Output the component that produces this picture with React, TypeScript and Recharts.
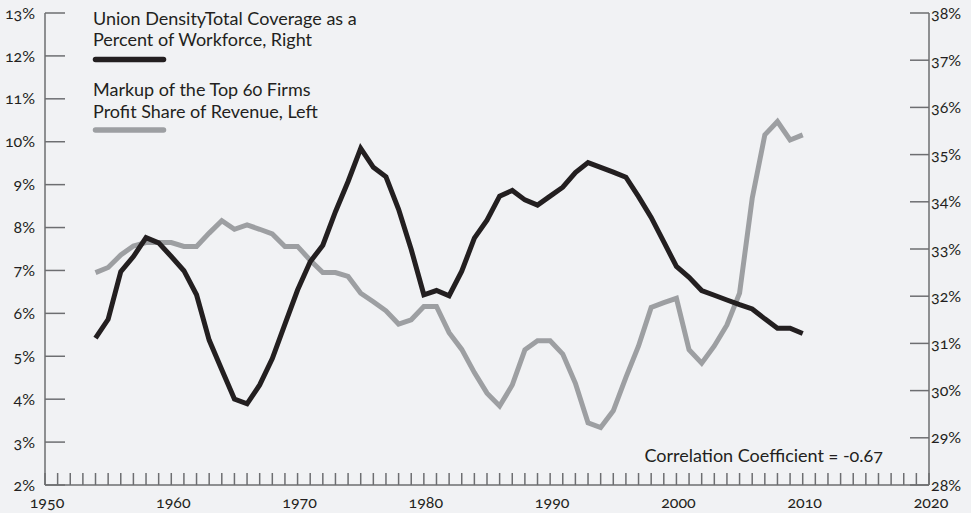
import React from 'react';
import { ComposedChart, Line, XAxis, YAxis } from 'recharts';

const years: number[] = [];
for (let y = 1954; y <= 2010; y++) years.push(y);

const unionDensity: number[] = [
  31.11, 31.51, 32.52, 32.84, 33.24, 33.13, 32.84, 32.54, 32.03, 31.07,
  30.44, 29.82, 29.72, 30.12, 30.68, 31.41, 32.13, 32.73, 33.08, 33.79,
  34.43, 35.13, 34.73, 34.53, 33.84, 32.99, 32.03, 32.12, 32.01, 32.53,
  33.23, 33.61, 34.12, 34.24, 34.04, 33.93, 34.12, 34.31, 34.62, 34.83,
  34.73, 34.63, 34.52, 34.11, 33.67, 33.15, 32.63, 32.40, 32.12, 32.02,
  31.92, 31.82, 31.73, 31.52, 31.32, 31.32, 31.21,
];

const profitShare: number[] = [
  6.95, 7.07, 7.36, 7.57, 7.65, 7.65, 7.65, 7.56, 7.56, 7.87,
  8.16, 7.96, 8.06, 7.96, 7.85, 7.56, 7.56, 7.24, 6.95, 6.95,
  6.86, 6.47, 6.27, 6.06, 5.75, 5.85, 6.16, 6.16, 5.55, 5.16,
  4.62, 4.14, 3.84, 4.33, 5.15, 5.36, 5.36, 5.05, 4.37, 3.45,
  3.34, 3.73, 4.51, 5.24, 6.14, 6.25, 6.35, 5.15, 4.84, 5.24,
  5.73, 6.47, 8.68, 10.16, 10.47, 10.04, 10.16,
];

const xTicks: number[] = [];
for (let y = 1950; y <= 2020; y++) xTicks.push(y);
const leftTicks = [2, 3, 4, 5, 6, 7, 8, 9, 10, 11, 12, 13];
const rightTicks = [28, 29, 30, 31, 32, 33, 34, 35, 36, 37, 38];

const legendUnion = ['Union DensityTotal Coverage as a', 'Percent of Workforce, Right'];
const legendProfit = ['Markup of the Top 60 Firms', 'Profit Share of Revenue, Left'];
const noteText = 'Correlation Coefficient = -0.67';

const data = years.map((year, i) => ({
  year,
  union: unionDensity[i],
  profit: profitShare[i],
}));

const FONT = 'Lato, "Open Sans", sans-serif';
const TEXT = '#231f20';
const AXIS = '#6d6e71';
const BLACK = '#231f20';
const GRAY = '#9d9fa2';
const BG = '#f1f2f4';

const textStyle: React.CSSProperties = { fontVariantNumeric: 'oldstyle-nums' };

const XTick = (props: any) => {
  const { x, y, payload } = props;
  if (payload.value % 10 !== 0) return null;
  return (
    <text x={x + 2} y={y} textAnchor="middle" dy="0.71em" fill={TEXT} fontSize={16} fontFamily={FONT} style={textStyle}>
      {payload.value}
    </text>
  );
};

export default function App() {
  return (
    <div style={{ position: 'absolute', left: 0, top: 0, width: 971, height: 513, background: BG }}>
      <ComposedChart width={971} height={513} data={data} margin={{ top: 13, right: 0, bottom: 0, left: 0 }}>
        <XAxis
          dataKey="year"
          type="number"
          domain={[1950, 2020]}
          ticks={xTicks}
          interval={0}
          height={28}
          tickSize={-12}
          tickMargin={24}
          tick={<XTick />}
          stroke={AXIS}
          strokeWidth={1.5}
          tickLine={{ stroke: AXIS, strokeWidth: 1.5 }}
        />
        <YAxis
          yAxisId="left"
          orientation="left"
          domain={[2, 13]}
          ticks={leftTicks}
          interval={0}
          width={45}
          tickSize={-20}
          tickMargin={30}
          tickFormatter={(v: number) => `${v}%`}
          tick={{ fill: TEXT, fontSize: 16, fontFamily: FONT, style: textStyle }}
          stroke={AXIS}
          strokeWidth={1.5}
          tickLine={{ stroke: AXIS, strokeWidth: 1.5 }}
        />
        <YAxis
          yAxisId="right"
          orientation="right"
          domain={[28, 38]}
          ticks={rightTicks}
          interval={0}
          width={42}
          tickSize={-19}
          tickMargin={21}
          tickFormatter={(v: number) => `${v}%`}
          tick={{ fill: TEXT, fontSize: 16, fontFamily: FONT, style: textStyle }}
          stroke={AXIS}
          strokeWidth={1.5}
          tickLine={{ stroke: AXIS, strokeWidth: 1.5 }}
        />
        <Line
          yAxisId="left"
          dataKey="profit"
          stroke={GRAY}
          strokeWidth={5}
          dot={false}
          activeDot={false}
          type="linear"
          isAnimationActive={false}
        />
        <Line
          yAxisId="right"
          dataKey="union"
          stroke={BLACK}
          strokeWidth={5}
          dot={false}
          activeDot={false}
          type="linear"
          isAnimationActive={false}
        />
      </ComposedChart>
      <svg width={971} height={513} style={{ position: 'absolute', left: 0, top: 0, pointerEvents: 'none' }}>
        <g fontFamily={FONT} fontSize={18} fill={TEXT} style={textStyle}>
          <text x={93} y={25}>{legendUnion[0]}</text>
          <text x={93} y={46}>{legendUnion[1]}</text>
          <line x1={95.5} y1={59.5} x2={163.5} y2={59.5} stroke={BLACK} strokeWidth={5.5} strokeLinecap="round" />
          <text x={93} y={96}>{legendProfit[0]}</text>
          <text x={93} y={117.5}>{legendProfit[1]}</text>
          <line x1={95.5} y1={130} x2={163.5} y2={130} stroke={GRAY} strokeWidth={5.5} strokeLinecap="round" />
          <text x={883} y={462} textAnchor="end">{noteText}</text>
        </g>
      </svg>
    </div>
  );
}
